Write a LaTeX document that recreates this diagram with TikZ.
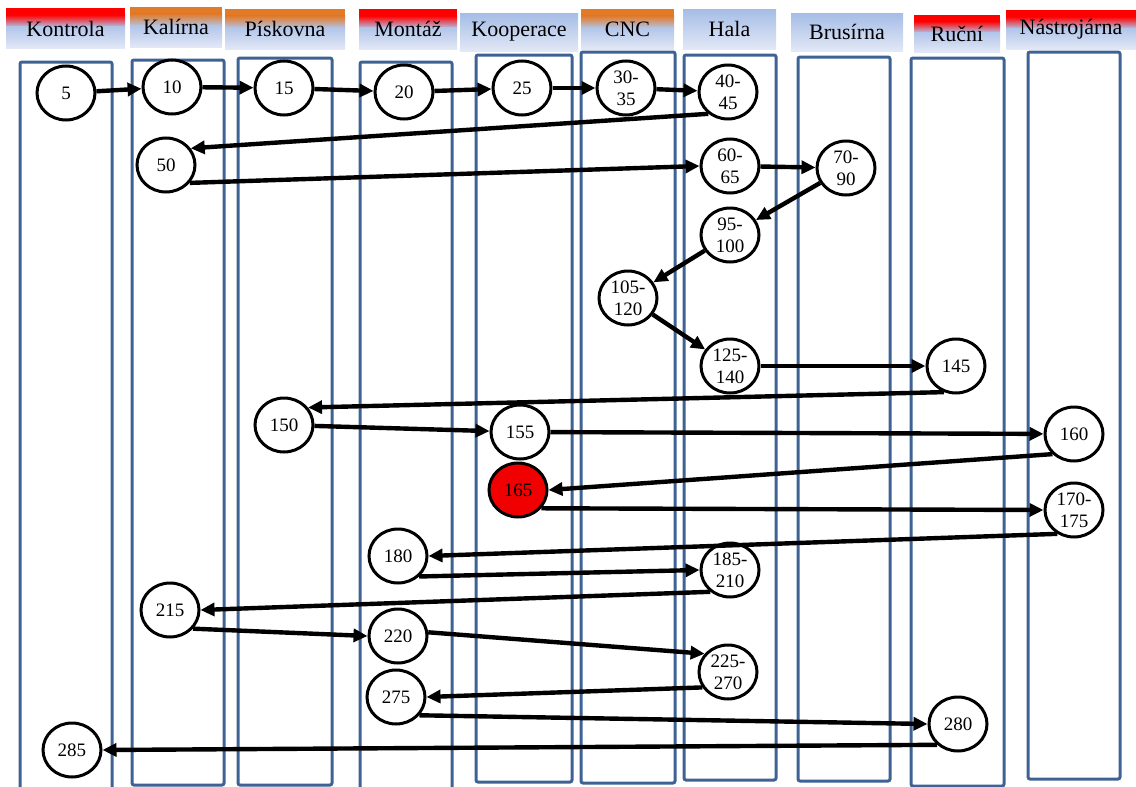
\documentclass[tikz,border=0pt]{standalone}
\usepackage{fontspec}
\setmainfont{Liberation Serif}
\usetikzlibrary{arrows.meta,shapes.geometric}
\definecolor{hblue}{RGB}{178,197,233}
\definecolor{hbluetop}{RGB}{165,189,230}
\definecolor{hlight}{RGB}{226,232,246}
\definecolor{hred}{RGB}{255,0,0}
\definecolor{horange}{RGB}{226,122,40}
\definecolor{colblue}{RGB}{62,98,148}
\definecolor{nodered}{RGB}{240,0,0}
\newcommand\mkhdr[5]{%
  \pgfmathsetmacro\hdrya{#2+0.18*(#4-#2)}%
  \pgfmathsetmacro\hdryb{#2+0.48*(#4-#2)}%
  \fill[#5] (#1,#2) rectangle (#3,\hdrya);
  \shade[top color=#5,bottom color=hblue] (#1,\hdrya-0.4) rectangle (#3,\hdryb);
  \shade[top color=hblue,bottom color=hlight] (#1,\hdryb-0.4) rectangle (#3,#4);}
\begin{document}
\begin{tikzpicture}[x=0.5pt,y=-0.5pt,
  col/.style={draw=colblue, line width=1.5pt, rounded corners=1pt},
  hdr/.style={inner sep=0pt, font=\fontsize{11}{13}\selectfont},
  st/.style={ellipse, draw=black, line width=1.5pt, fill=white, minimum width=29pt, minimum height=27pt, inner sep=0pt, align=center, font=\fontsize{9.5}{11}\selectfont},
  ar/.style={-{Triangle[length=7pt,width=6.5pt]}, line width=2.2pt}]
\useasboundingbox (0,0) rectangle (1136,787);
\clip (0,0) rectangle (1136,787);
% header backgrounds
\mkhdr{6}{8}{125}{48}{hred}
\mkhdr{130}{7}{222}{47}{horange}
\mkhdr{225}{9}{345}{49}{horange}
\mkhdr{359}{9}{457}{49}{hred}
\shade[top color=hbluetop,bottom color=hlight] (460,13) rectangle (578,51);
\mkhdr{581}{9}{674}{49}{horange}
\shade[top color=hbluetop,bottom color=hlight] (683,9) rectangle (776,49);
\shade[top color=hbluetop,bottom color=hlight] (791,13) rectangle (903,51);
\mkhdr{914}{15}{1000}{52}{hred}
\mkhdr{1006}{10}{1136}{49}{hred}
% header texts
\node[hdr] (hK) at (65.5,29) {Kontrola};
\node[hdr] (hKa) at (176,27) {Kalírna};
\node[hdr] (hP) at (285,29) {Pískovna};
\node[hdr] (hM) at (408,29) {Montáž};
\node[hdr] (hKo) at (519,32) {Kooperace};
\node[hdr] (hC) at (627.5,29) {CNC};
\node[hdr] (hH) at (729.5,29) {Hala};
\node[hdr] (hB) at (847,32) {Brusírna};
\node[hdr] (hR) at (957,34) {Ruční};
\node[hdr] (hN) at (1071,29.5) {Nástrojárna};
% columns
\draw[col] (20,62) rectangle (112,795);
\draw[col] (132,60) rectangle (224,785);
\draw[col] (238,58) rectangle (332,785);
\draw[col] (360,62) rectangle (452,795);
\draw[col] (476,55) rectangle (572,782);
\draw[col] (581,52) rectangle (675,783);
\draw[col] (684,55) rectangle (776,780);
\draw[col] (798,57) rectangle (890,781);
\draw[col] (911,58) rectangle (1004,786);
\draw[col] (1028,52) rectangle (1120,779);
% nodes
\node[st] (n5) at (66,93) {5};
\node[st] (n10) at (172,87) {10};
\node[st] (n15) at (284,88) {15};
\node[st] (n20) at (404,92) {20};
\node[st] (n25) at (522,88) {25};
\node[st] (n30) at (626,88) {30-\\35};
\node[st] (n40) at (728,92) {40-\\45};
\node[st] (n50) at (166,165) {50};
\node[st] (n60) at (730,166) {60-\\65};
\node[st] (n70) at (846,168) {70-\\90};
\node[st] (n95) at (730,235) {95-\\100};
\node[st] (n105) at (628,298) {105-\\120};
\node[st] (n125) at (730,366) {125-\\140};
\node[st] (n145) at (956,366) {145};
\node[st] (n150) at (284,425) {150};
\node[st] (n155) at (520,432) {155};
\node[st] (n160) at (1074,434) {160};
\node[st, fill=nodered] (n165) at (518,490) {165};
\node[st] (n170) at (1074,510) {170-\\175};
\node[st] (n180) at (398,556) {180};
\node[st] (n185) at (730,570) {185-\\210};
\node[st] (n215) at (170,610) {215};
\node[st] (n220) at (398,636) {220};
\node[st] (n225) at (728,672) {225-\\270};
\node[st] (n275) at (396,697) {275};
\node[st] (n280) at (958,724) {280};
\node[st] (n285) at (72,750) {285};
% connectors
\draw[ar] (n5) -- (n10);
\draw[ar] (n10) -- (n15);
\draw[ar] (n15) -- (n20);
\draw[ar] (n20) -- (n25);
\draw[ar] (n25) -- (n30);
\draw[ar] (n30) -- (n40);
\draw[ar] (n40.228) -- (n50.34);
\draw[ar] (n50.-37) -- (n60.180);
\draw[ar] (n60) -- (n70);
\draw[ar] (n70) -- (n95);
\draw[ar] (n95) -- (n105);
\draw[ar] (n105) -- (n125);
\draw[ar] (n125) -- (n145);
\draw[ar] (n145.245) -- (n150.36);
\draw[ar] (n150) -- (n155);
\draw[ar] (n155) -- (n160);
\draw[ar] (n160.223) -- (n165.0);
\draw[ar] (n165.-38) -- (n170.180);
\draw[ar] (n170.235) -- (n180.0);
\draw[ar] (n180.-44) -- (n185.180);
\draw[ar] (n185.228) -- (n215.0);
\draw[ar] (n215.-39) -- (n220.180);
\draw[ar] (n220.7) -- (n225.142);
\draw[ar] (n225.211) -- (n275.0);
\draw[ar] (n275.-38) -- (n280.180);
\draw[ar] (n280.225) -- (n285.0);
\end{tikzpicture}
\end{document}
